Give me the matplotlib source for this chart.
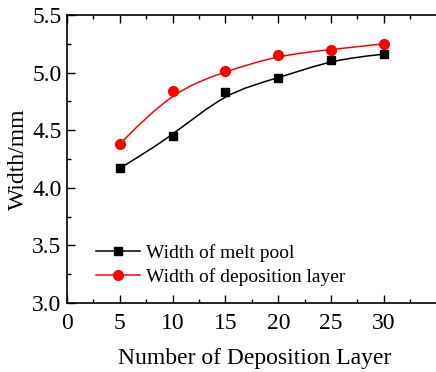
import numpy as np
import matplotlib
matplotlib.use('Agg')
import matplotlib.pyplot as plt
from matplotlib.path import Path
from matplotlib.patches import PathPatch
from matplotlib.lines import Line2D
from matplotlib.ticker import MultipleLocator, FormatStrFormatter

plt.rcParams['font.family'] = ['Liberation Serif', 'DejaVu Serif']

layers = [5, 10, 15, 20, 25, 30]
melt_pool = [4.17, 4.45, 4.83, 4.95, 5.11, 5.16]
deposition = [4.38, 4.84, 5.01, 5.15, 5.20, 5.25]


def bspline_path(x, y):
    # clamped uniform cubic B-spline (like Origin's B-spline line), as Bezier pieces
    pts = np.column_stack([np.asarray(x, float), np.asarray(y, float)])
    P = np.vstack([pts[0], pts[0], pts, pts[-1], pts[-1]])
    verts, codes = [], []
    for i in range(1, len(P) - 2):
        a, b, c, d = P[i - 1], P[i], P[i + 1], P[i + 2]
        b0 = (a + 4 * b + c) / 6
        b1 = (2 * b + c) / 3
        b2 = (b + 2 * c) / 3
        b3 = (b + 4 * c + d) / 6
        if not verts:
            verts.append(b0)
            codes.append(Path.MOVETO)
        verts += [b1, b2, b3]
        codes += [Path.CURVE4] * 3
    return Path(verts, codes)


fig = plt.figure(figsize=(4.36, 3.72), dpi=100)
ax = fig.add_axes([67 / 436, 1 - 303 / 372, 375 / 436, 288 / 372])

for ys, col, mk, ms in [(melt_pool, 'black', 's', 6), (deposition, 'red', 'o', 7)]:
    ax.add_patch(PathPatch(bspline_path(layers, ys), fill=False, edgecolor=col, lw=1.1))
    ax.plot(layers, ys, linestyle='none', marker=mk, color=col, markersize=ms)

ax.set_xlim(0, 35.5)
ax.set_ylim(3.0, 5.5)
ax.xaxis.set_major_locator(MultipleLocator(5))
ax.xaxis.set_minor_locator(MultipleLocator(2.5))
ax.yaxis.set_major_locator(MultipleLocator(0.5))
ax.yaxis.set_minor_locator(MultipleLocator(0.25))
ax.yaxis.set_major_formatter(FormatStrFormatter('%.1f'))
ax.tick_params(which='both', direction='in', top=True, right=False, labelsize=17, width=1)
ax.tick_params(which='major', length=6)
ax.tick_params(axis='x', which='major', pad=7)
ax.tick_params(axis='y', which='major', pad=4)
ax.tick_params(which='minor', length=3)
ax.set_xticks([0, 5, 10, 15, 20, 25, 30])
for s in ax.spines.values():
    s.set_linewidth(1.2)

ax.set_xlabel('Number of Deposition Layer', fontsize=17, labelpad=10)
ax.set_ylabel('Width/mm', fontsize=17, labelpad=2)

handles = [Line2D([], [], color='black', marker='s', markersize=6, lw=1.1),
           Line2D([], [], color='red', marker='o', markersize=7, lw=1.1)]
ax.legend(handles, ['Width of melt pool', 'Width of deposition layer'],
          loc='lower left', bbox_to_anchor=(0.03, 0.0), frameon=False,
          fontsize=14, handlelength=2.3, handletextpad=0.3, labelspacing=0.3)

fig.savefig('out.png', dpi=100)
